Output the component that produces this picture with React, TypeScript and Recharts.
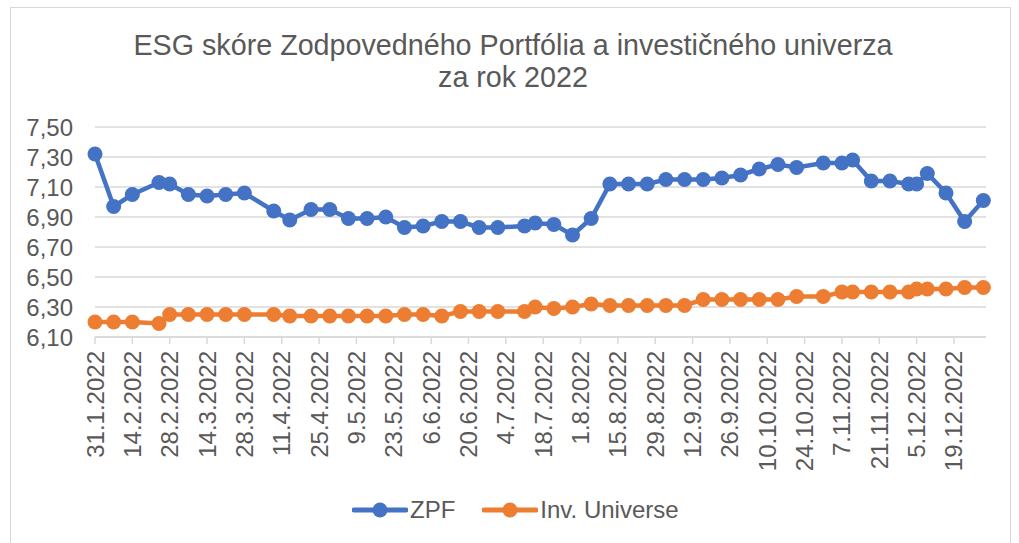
import React from "react";
import { LineChart, Line, XAxis, YAxis, CartesianGrid, Legend } from "recharts";

const dates = [
  "31.1.2022", "7.2.2022", "14.2.2022", "24.2.2022", "28.2.2022", "7.3.2022", "14.3.2022",
  "21.3.2022", "28.3.2022", "8.4.2022", "14.4.2022", "22.4.2022", "29.4.2022", "6.5.2022",
  "13.5.2022", "20.5.2022", "27.5.2022", "3.6.2022", "10.6.2022", "17.6.2022", "24.6.2022",
  "1.7.2022", "11.7.2022", "15.7.2022", "22.7.2022", "29.7.2022", "5.8.2022", "12.8.2022",
  "19.8.2022", "26.8.2022", "2.9.2022", "9.9.2022", "16.9.2022", "23.9.2022", "30.9.2022",
  "7.10.2022", "14.10.2022", "21.10.2022", "31.10.2022", "7.11.2022", "11.11.2022",
  "18.11.2022", "25.11.2022", "2.12.2022", "5.12.2022", "9.12.2022", "16.12.2022",
  "23.12.2022", "30.12.2022",
];

const zpf = [
  7.32, 6.97, 7.05, 7.13, 7.12, 7.05, 7.04, 7.05, 7.06, 6.94, 6.88, 6.95, 6.95, 6.89,
  6.89, 6.9, 6.83, 6.84, 6.87, 6.87, 6.83, 6.83, 6.84, 6.86, 6.85, 6.78, 6.89, 7.12,
  7.12, 7.12, 7.15, 7.15, 7.15, 7.16, 7.18, 7.22, 7.25, 7.23, 7.26, 7.26, 7.28, 7.14,
  7.14, 7.12, 7.12, 7.19, 7.06, 6.87, 7.01,
];

const universe = [
  6.2, 6.2, 6.2, 6.19, 6.25, 6.25, 6.25, 6.25, 6.25, 6.25, 6.24, 6.24, 6.24, 6.24,
  6.24, 6.24, 6.25, 6.25, 6.24, 6.27, 6.27, 6.27, 6.27, 6.3, 6.29, 6.3, 6.32, 6.31,
  6.31, 6.31, 6.31, 6.31, 6.35, 6.35, 6.35, 6.35, 6.35, 6.37, 6.37, 6.4, 6.4, 6.4,
  6.4, 6.4, 6.42, 6.42, 6.42, 6.43, 6.43,
];

const tickLabels = [
  "31.1.2022", "14.2.2022", "28.2.2022", "14.3.2022", "28.3.2022", "11.4.2022",
  "25.4.2022", "9.5.2022", "23.5.2022", "6.6.2022", "20.6.2022", "4.7.2022",
  "18.7.2022", "1.8.2022", "15.8.2022", "29.8.2022", "12.9.2022", "26.9.2022",
  "10.10.2022", "24.10.2022", "7.11.2022", "21.11.2022", "5.12.2022", "19.12.2022",
];

const yTicks = [6.1, 6.3, 6.5, 6.7, 6.9, 7.1, 7.3, 7.5];
const seriesNames = ["ZPF", "Inv. Universe"];
const axisEnd = "31.12.2022";

// days since 31.1.2022
const toDay = (s: string) => {
  const [d, m, y] = s.split(".").map(Number);
  return Math.round((Date.UTC(y, m - 1, d) - Date.UTC(2022, 0, 31)) / 86400000);
};

const data = dates.map((d, i) => ({ day: toDay(d), zpf: zpf[i], universe: universe[i] }));
const xTicks = tickLabels.map(toDay);

const FONT = "'Liberation Sans', Arial, sans-serif";
const TEXT = "#595959";
const GRID = "#d9d9d9";

const XTick = (props: any) => {
  const { x, y, payload } = props;
  const idx = xTicks.indexOf(payload.value);
  const label = idx >= 0 ? tickLabels[idx] : "";
  return (
    <text
      x={x}
      y={y}
      dx={1}
      transform={`rotate(-90, ${x}, ${y})`}
      textAnchor="end"
      dominantBaseline="central"
      fontSize={24}
      fontFamily={FONT}
      fill={TEXT}
    >
      {label}
    </text>
  );
};

const LegendContent = (props: any) => {
  const items = [...(props.payload || [])].sort(
    (a: any, b: any) => seriesNames.indexOf(a.value) - seriesNames.indexOf(b.value)
  );
  return (
    <div style={{ display: "flex", alignItems: "center", height: 66, paddingLeft: 352, fontFamily: FONT }}>
      {items.map((p: any) => (
        <div key={p.value} style={{ display: "flex", alignItems: "center", marginRight: 27 }}>
          <svg width={56} height={18}>
            <line x1={2} y1={9} x2={54} y2={9} stroke={p.color} strokeWidth={5} strokeLinecap="round" />
            <circle cx={28} cy={9} r={7.5} fill={p.color} />
          </svg>
          <span style={{ fontSize: 24, color: TEXT, marginLeft: 2 }}>{p.value}</span>
        </div>
      ))}
    </div>
  );
};

export default function App() {
  return (
    <div style={{ position: "absolute", left: 0, top: 0, width: 1019, height: 543, overflow: "hidden", background: "#fff" }}>
      <div
        style={{
          position: "absolute",
          left: 10,
          top: 7,
          width: 999,
          height: 560,
          border: `1.5px solid ${GRID}`,
        }}
      />
      <div
        style={{
          position: "absolute",
          left: 0,
          top: 29,
          width: 1026,
          textAlign: "center",
          fontFamily: FONT,
          fontSize: 28.7,
          lineHeight: "32px",
          color: TEXT,
        }}
      >
        ESG skóre Zodpovedného Portfólia a investičného univerza
        <br />
        za rok 2022
      </div>
      <div style={{ position: "absolute", left: 0, top: 0 }}>
        <LineChart width={1019} height={543} data={data} margin={{ top: 127, right: 33, left: 0, bottom: 0 }}>
          <CartesianGrid vertical={false} stroke={GRID} strokeWidth={1.5} />
          <XAxis
            dataKey="day"
            type="number"
            domain={[0, toDay(axisEnd)]}
            ticks={xTicks}
            interval={0}
            height={140}
            tickSize={7}
            tickMargin={8}
            axisLine={{ stroke: GRID, strokeWidth: 1.5 }}
            tickLine={{ stroke: GRID, strokeWidth: 1.5 }}
            tick={<XTick />}
          />
          <YAxis
            type="number"
            domain={[6.1, 7.5]}
            ticks={yTicks}
            interval={0}
            width={95}
            axisLine={false}
            tickLine={false}
            tickMargin={16}
            tickFormatter={(v: number) => v.toFixed(2).replace(".", ",")}
            tick={{ fill: TEXT, fontSize: 24, fontFamily: FONT }}
          />
          <Legend verticalAlign="bottom" content={<LegendContent />} wrapperStyle={{ left: 0, width: 1019 }} />
          <Line
            name="ZPF"
            dataKey="zpf"
            type="linear"
            stroke="#4472C4"
            strokeWidth={4.5}
            dot={{ r: 7.5, fill: "#4472C4", stroke: "none" }}
            activeDot={false}
            isAnimationActive={false}
          />
          <Line
            name="Inv. Universe"
            dataKey="universe"
            type="linear"
            stroke="#ED7D31"
            strokeWidth={4.5}
            dot={{ r: 7.5, fill: "#ED7D31", stroke: "none" }}
            activeDot={false}
            isAnimationActive={false}
          />
        </LineChart>
      </div>
    </div>
  );
}
